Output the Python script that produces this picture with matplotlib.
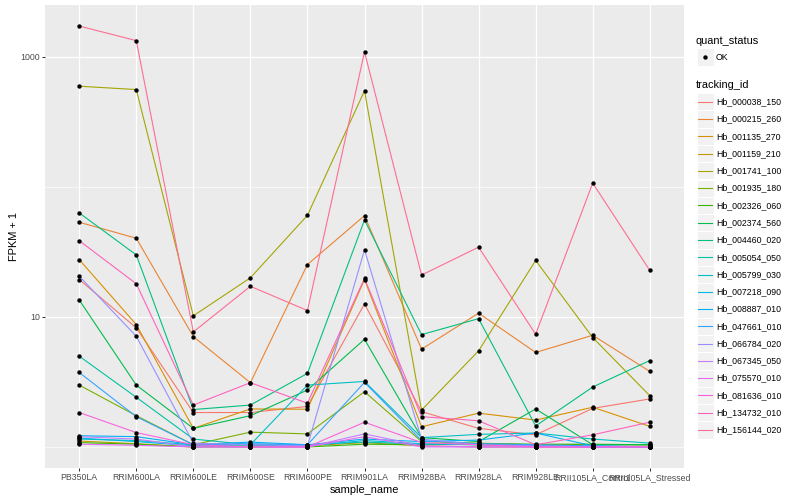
import matplotlib
matplotlib.use("Agg")
import numpy as np
import matplotlib.pyplot as plt
from matplotlib.patches import Rectangle
from matplotlib.lines import Line2D

plt.rcParams['font.family'] = ['Liberation Sans', 'DejaVu Sans']

# samples on the x axis
sample_names = ['PB350LA', 'RRIM600LA', 'RRIM600LE', 'RRIM600SE', 'RRIM600PE',
                'RRIM901LA', 'RRIM928BA', 'RRIM928LA', 'RRIM928LE',
                'RRII105LA_Control', 'RRII105LA_Stressed']

tracking_ids = ['Hb_000038_150', 'Hb_000215_260', 'Hb_001135_270', 'Hb_001159_210',
                'Hb_001741_100', 'Hb_001935_180', 'Hb_002326_060', 'Hb_002374_560',
                'Hb_004460_020', 'Hb_005054_050', 'Hb_005799_030', 'Hb_007218_090',
                'Hb_008887_010', 'Hb_047661_010', 'Hb_066784_020', 'Hb_067345_050',
                'Hb_075570_010', 'Hb_081636_010', 'Hb_134732_010', 'Hb_156144_020']

# FPKM per gene, one value per sample
hb_000038_150 = [18.4, 7.24, 0.84, 0.84, 1.05, 11.6, 0.87, 0.39, 0.24, 0.98, 1.34]
hb_000215_260 = [52.5, 39.3, 6.06, 2.12, 24.3, 59.1, 4.65, 9.7, 4.33, 6.23, 2.81]
hb_001135_270 = [26.6, 7.73, 0.39, 0.96, 0.95, 18.4, 0.43, 0.82, 0.61, 1.02, 0.44]
hb_001159_210 = [0.11, 0.06, 0.0, 0.02, 0.02, 0.08, 0.02, 0.0, 0.0, 0.0, 0.0]
hb_001741_100 = [594, 560, 9.2, 19.0, 59.5, 548, 0.92, 4.49, 26.2, 5.94, 1.48]
hb_001935_180 = [1.99, 0.74, 0.04, 0.30, 0.26, 1.66, 0.10, 0.07, 0.04, 0.04, 0.04]
hb_002326_060 = [0.08, 0.05, 0.0, 0.0, 0.0, 0.05, 0.04, 0.06, 0.05, 0.05, 0.04]
hb_002374_560 = [12.5, 1.99, 0.39, 0.74, 1.74, 5.73, 0.18, 0.10, 0.96, 0.04, 0.04]
hb_004460_020 = [62.1, 29.0, 0.94, 1.10, 2.68, 54.7, 6.31, 8.70, 0.45, 1.89, 3.62]
hb_005054_050 = [3.99, 1.41, 0.15, 0.04, 0.04, 0.09, 0.05, 0.04, 0.02, 0.0, 0.0]
hb_005799_030 = [0.15, 0.12, 0.04, 0.04, 1.99, 2.19, 0.18, 0.25, 0.28, 0.15, 0.07]
hb_007218_090 = [0.17, 0.10, 0.02, 0.04, 0.02, 0.12, 0.06, 0.04, 0.02, 0.0, 0.0]
hb_008887_010 = [0.22, 0.20, 0.04, 0.09, 0.04, 0.15, 0.10, 0.13, 0.28, 0.02, 0.0]
hb_047661_010 = [2.74, 0.71, 0.04, 0.06, 0.04, 2.14, 0.12, 0.06, 0.04, 0.02, 0.0]
hb_066784_020 = [19.6, 6.10, 0.07, 0.04, 0.02, 31.8, 0.15, 0.04, 0.02, 0.0, 0.0]
hb_067345_050 = [0.20, 0.15, 0.0, 0.0, 0.0, 0.26, 0.02, 0.0, 0.0, 0.0, 0.0]
hb_075570_010 = [0.05, 0.03, 0.0, 0.0, 0.0, 0.20, 0.0, 0.0, 0.0, 0.0, 0.0]
hb_081636_010 = [0.84, 0.29, 0.04, 0.0, 0.0, 0.55, 0.08, 0.04, 0.0, 0.0, 0.0]
hb_134732_010 = [37.6, 17.0, 1.10, 2.12, 1.17, 18.8, 0.71, 0.59, 0.04, 0.24, 0.55]
hb_156144_020 = [1726, 1333, 6.67, 16.2, 10.2, 1091, 20.0, 33.4, 6.36, 106, 21.8]

fpkm = [hb_000038_150, hb_000215_260, hb_001135_270, hb_001159_210, hb_001741_100,
        hb_001935_180, hb_002326_060, hb_002374_560, hb_004460_020, hb_005054_050,
        hb_005799_030, hb_007218_090, hb_008887_010, hb_047661_010, hb_066784_020,
        hb_067345_050, hb_075570_010, hb_081636_010, hb_134732_010, hb_156144_020]

# ggplot default hue palette for 20 levels
colors = ['#F8766D', '#EA8331', '#D89000', '#C09B00', '#A3A500', '#7CAE00', '#39B600',
          '#00BB4E', '#00BF7D', '#00C1A3', '#00BFC4', '#00BAE0', '#00B0F6', '#35A2FF',
          '#9590FF', '#C77CFF', '#E76BF3', '#FA62DB', '#FF62BC', '#FF6C91']

W, H = 800, 500
fig = plt.figure(figsize=(W / 72, H / 72), dpi=72)
ax = fig.add_axes([45 / W, 1 - 468 / H, (684 - 45) / W, (468 - 5) / H])
ax.set_facecolor('#EBEBEB')

x = np.arange(len(sample_names))
for vals, col in zip(fpkm, colors):
    ax.plot(x, np.array(vals) + 1, color=col, lw=1.1, zorder=2)
for vals in fpkm:
    ax.plot(x, np.array(vals) + 1, 'o', color='black', ms=4.4, mew=0, zorder=3)

ax.set_yscale('log')
allv = np.log10(np.concatenate([np.array(v) + 1 for v in fpkm]))
lo, hi = allv.min(), allv.max()
pad = 0.05 * (hi - lo)
ax.set_ylim(10 ** (lo - pad), 10 ** (hi + pad))
ax.set_xlim(-0.6, len(sample_names) - 0.4)

ax.set_yticks([10, 1000])
ax.set_yticklabels(['10', '1000'])
ax.set_yticks([1, 100], minor=True)
ax.set_yticklabels([], minor=True)
ax.set_xticks(x)
ax.set_xticklabels(sample_names)

ax.grid(True, which='major', color='white', lw=1.3)
ax.grid(True, which='minor', axis='y', color='white', lw=0.65)
ax.set_axisbelow(True)
for s in ax.spines.values():
    s.set_visible(False)
ax.tick_params(which='major', length=2.75, width=1, color='#333333',
               labelsize=8.8, labelcolor='#4D4D4D', pad=2.2)
ax.tick_params(which='minor', length=0)

ax.set_xlabel('sample_name', fontsize=11, labelpad=3)
ax.set_ylabel('FPKM + 1', fontsize=11, labelpad=1)


def fx(px):
    return px / W


def fy(py):
    return 1 - py / H


# legends
fig.text(fx(696), fy(40.7), 'quant_status', fontsize=11, va='center', ha='left')
fig.add_artist(Rectangle((fx(696.5), fy(65.5)), 17 / W, 17 / H,
                         transform=fig.transFigure, facecolor='#F2F2F2', edgecolor='white'))
fig.add_artist(Line2D([fx(705)], [fy(57)], marker='o', color='black', ms=4.4, mew=0,
                      transform=fig.transFigure))
fig.text(fx(716), fy(57), 'OK', fontsize=8.8, va='center', ha='left')

fig.text(fx(696), fy(85), 'tracking_id', fontsize=11, va='center', ha='left')
for i, (tid, col) in enumerate(zip(tracking_ids, colors)):
    yc = 101.7 + i * 17.28
    fig.add_artist(Rectangle((fx(696.5), fy(yc + 8.6)), 17 / W, 17.2 / H,
                             transform=fig.transFigure, facecolor='#F2F2F2',
                             edgecolor='white'))
    fig.add_artist(Line2D([fx(698), fx(712)], [fy(yc), fy(yc)], color=col, lw=1.1,
                          transform=fig.transFigure))
    fig.text(fx(716), fy(yc), tid, fontsize=8.8, va='center', ha='left')

fig.savefig('out.png', dpi=72)
